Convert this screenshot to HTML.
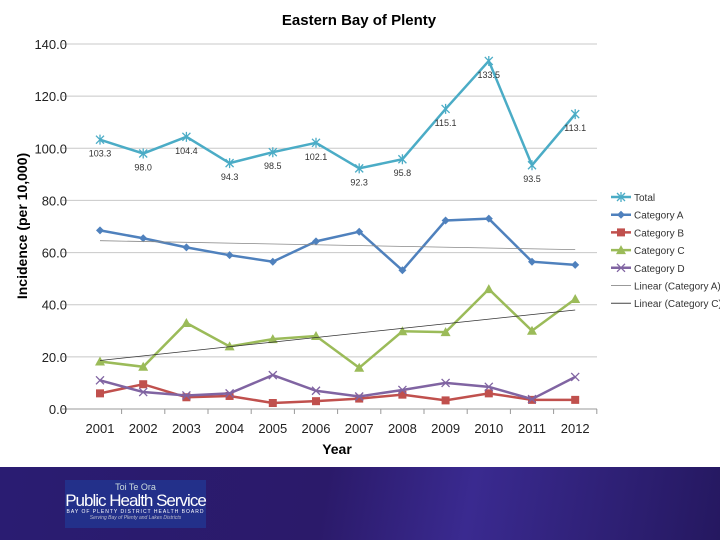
<!DOCTYPE html>
<html><head><meta charset="utf-8"><style>
body{margin:0;width:720px;height:540px;overflow:hidden;background:#fff;font-family:"Liberation Sans",sans-serif}
#band{position:absolute;left:0;top:467px;width:720px;height:73px;background:linear-gradient(100deg,#2a1c72 0%,#2b1a6a 45%,#3a2a90 65%,#251860 100%)}
#logo{position:absolute;left:65px;top:13px;width:141px;height:48px;background:#23308a;color:#fff;text-align:center}
</style></head><body>
<svg id="chart" width="720" height="467" style="position:absolute;left:0;top:0"></svg>
<div id="band">
<div id="logo">
<div style="font-size:9px;margin-top:2px;color:#cdd">Toi Te Ora</div>
<div style="font-size:17px;letter-spacing:-1px;line-height:17px">Public Health Service</div>
<div style="font-size:5px;letter-spacing:1px">BAY OF PLENTY DISTRICT HEALTH BOARD</div>
<div style="font-size:5px;font-style:italic;color:#bbc">Serving Bay of Plenty and Lakes Districts</div>
</div></div>
<script>
const years=["2001","2002","2003","2004","2005","2006","2007","2008","2009","2010","2011","2012"];
const yTicks=[0,20,40,60,80,100,120,140];
const total=[103.3,98.0,104.4,94.3,98.5,102.1,92.3,95.8,115.1,133.5,93.5,113.1];
const catA=[68.5,65.5,62,59,56.5,64.3,68,53.2,72.3,73,56.5,55.3];
const catB=[6,9.5,4.5,5,2.3,3,4,5.5,3.3,6,3.5,3.5];
const catC=[18.2,16.2,33,24,26.8,28,15.8,29.8,29.5,46,30,42.2];
const catD=[11,6.5,5.2,6,13,7,4.8,7.3,10,8.5,3.8,12.3];
const NS="http://www.w3.org/2000/svg",svg=document.getElementById('chart');
const X=i=>100+i*43.2, Y=v=>409-v*365/140;
function el(t,a,p){const e=document.createElementNS(NS,t);for(const k in a)e.setAttribute(k,a[k]);(p||svg).appendChild(e);return e;}
function txt(s,a){const e=el('text',a);e.textContent=s;return e;}
let t=txt('Eastern Bay of Plenty',{x:359,y:25,'text-anchor':'middle','font-size':15,'font-weight':'bold'});

yTicks.forEach(v=>{
 const g=el('line',{x1:62,x2:597,y1:Y(v),y2:Y(v),stroke:v?'#c8c8c8':'#999'});
 
 const l=txt(v.toFixed(1),{x:67,y:Y(v)+5,'text-anchor':'end','font-size':13,fill:'#222'});
 
});
years.forEach((y,i)=>{
 el('line',{x1:X(i)+21.6,x2:X(i)+21.6,y1:409,y2:414,stroke:'#999'});
 const l=txt(y,{x:X(i),y:433,'text-anchor':'middle','font-size':13,fill:'#222'});
 
});
t=txt('Year',{x:337,y:454,'text-anchor':'middle','font-size':14,'font-weight':'bold'});

t=txt('Incidence (per 10,000)',{x:0,y:0,transform:'translate(27,226) rotate(-90)','text-anchor':'middle','font-size':14,'font-weight':'bold'});

function trend(d,name){const n=d.length;let sx=0,sy=0,sxy=0,sxx=0;d.forEach((v,i)=>{sx+=i;sy+=v;sxy+=i*v;sxx+=i*i});
 const b=(n*sxy-sx*sy)/(n*sxx-sx*sx),a=(sy-b*sx)/n;
 const l=el('line',{x1:X(0),y1:Y(a),x2:X(n-1),y2:Y(a+b*(n-1)),stroke:name=='trend-a'?'#888':'#333','stroke-width':0.8});
 }
function marker(type,x,y,c,g){
 if(type=='x'||type=='star'){el('path',{d:`M${x-4},${y-4}L${x+4},${y+4}M${x-4},${y+4}L${x+4},${y-4}`+(type=='star'?`M${x},${y-5}V${y+5}`:''),stroke:c,'stroke-width':1.3},g);}
 else if(type=='d')el('path',{d:`M${x},${y-4}L${x+4},${y}L${x},${y+4}L${x-4},${y}Z`,fill:c},g);
 else if(type=='s')el('rect',{x:x-4,y:y-4,width:8,height:8,fill:c},g);
 else if(type=='t')el('path',{d:`M${x},${y-5}L${x+5},${y+4}L${x-5},${y+4}Z`,fill:c},g);}
function series(d,c,m,name){const g=el('g',{});
 el('polyline',{points:d.map((v,i)=>X(i)+','+Y(v)).join(' '),fill:'none',stroke:c,'stroke-width':2.5},g);
 d.forEach((v,i)=>marker(m,X(i),Y(v),c,g));}
series(catB,'#c0504d','s','series-category-b');
series(catD,'#8064a2','x','series-category-d');
series(catC,'#9bbb59','t','series-category-c');
series(catA,'#4f81bd','d','series-category-a');
series(total,'#4bacc6','star','series-total');
trend(catA,'trend-a');trend(catC,'trend-c');
total.forEach((v,i)=>{const l=txt(v.toFixed(1),{x:X(i),y:Y(v)+17,'text-anchor':'middle','font-size':9,fill:'#333'});
 });
const leg=[['Total','#4bacc6','star'],['Category A','#4f81bd','d'],['Category B','#c0504d','s'],['Category C','#9bbb59','t'],['Category D','#8064a2','x'],['Linear (Category A)','#999',''],['Linear (Category C)','#444','']];
leg.forEach((e,i)=>{const y=197+i*17.7;const g=el('g',{});
 el('line',{x1:611,x2:631,y1:y,y2:y,stroke:e[1],'stroke-width':e[2]?2.5:1},g);
 if(e[2])marker(e[2],621,y,e[1],g);
 const tt=el('text',{x:634,y:y+4,'font-size':10,fill:'#333'},g);tt.textContent=e[0];});
</script>
</body></html>
